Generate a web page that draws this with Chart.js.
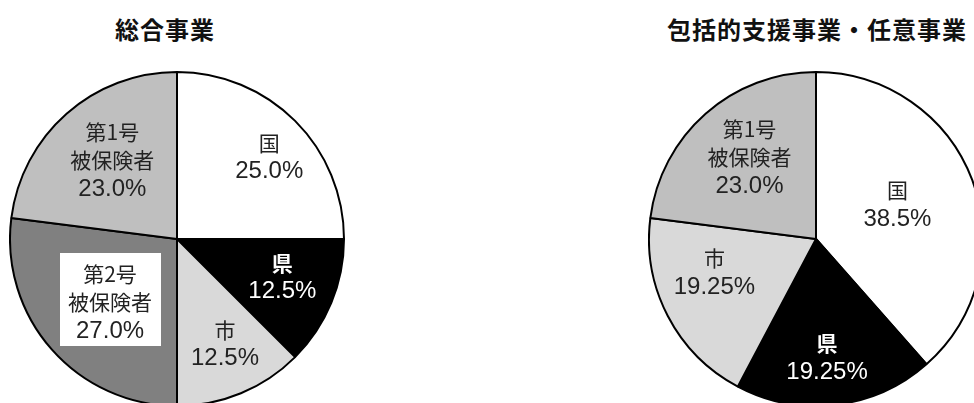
<!DOCTYPE html>
<html lang="ja">
<head>
<meta charset="utf-8">
<title>財源構成</title>
<script src="https://cdn.jsdelivr.net/npm/chart.js@4.4.1/dist/chart.umd.min.js"></script>
<style>
  html, body { margin: 0; padding: 0; background: #fff; }
  body { width: 974px; height: 403px; overflow: hidden; position: relative; }
  .ttl {
    position: absolute; top: 17px; height: 24px; line-height: 24px;
    text-align: center; font-family: "Noto Sans CJK JP", sans-serif;
    font-size: 24px; font-weight: bold; letter-spacing: 1px; color: #111;
    white-space: nowrap;
  }
  canvas { position: absolute; }
</style>
</head>
<body>
<div class="ttl" style="left:65px; width:200px;">総合事業</div>
<div class="ttl" style="left:617px; width:400px;">包括的支援事業・任意事業</div>
<canvas id="sogo" width="336" height="336" style="left:9px; top:71px;"></canvas>
<canvas id="hokatsu" width="336" height="336" style="left:648px; top:71px;"></canvas>

<script>
// 総合事業
var sogoLabels = ['国', '県', '市', '第2号\n被保険者', '第1号\n被保険者'];
var sogoValues = [25.0, 12.5, 12.5, 27.0, 23.0];

// 包括的支援事業・任意事業
var hokatsuLabels = ['国', '県', '市', '第1号\n被保険者'];
var hokatsuValues = [38.5, 19.25, 19.25, 23.0];

// 負担区分ごとの塗り色
var fillColors = {
    '国': '#ffffff',
    '県': '#000000',
    '市': '#d9d9d9',
    '第2号\n被保険者': '#808080',
    '第1号\n被保険者': '#bfbfbf'
};

// ラベルの置き場所（半径に対する比率と角度の補正）
var sogoPlace = {
    frac: [0.74, 0.67, 0.69, 0.55, 0.61],
    shift: [3.3, -2.8, -2.1, -1.8, 2.0],
    box: [false, false, false, true, false]
};
var hokatsuPlace = {
    frac: [0.53, 0.71, 0.64, 0.63],
    shift: [-2.4, 1.4, 9.4, 2.2],
    box: [false, false, false, false]
};

function pctText(v) {
    return (Math.round(v * 10) === v * 10 ? v.toFixed(1) : v.toFixed(2)) + '%';
}

// 扇形の中に名称と割合を書き込む
var sliceLabels = {
    id: 'sliceLabels',
    afterDatasetsDraw: function(chart, args, opts) {
        var ctx = chart.ctx;
        var meta = chart.getDatasetMeta(0);
        var ds = chart.data.datasets[0];
        var lineH = 28;
        meta.data.forEach(function(arc, i) {
            var p = arc.getProps(['x', 'y', 'startAngle', 'endAngle', 'outerRadius'], true);
            var ang = (p.startAngle + p.endAngle) / 2 + opts.shift[i] * Math.PI / 180;
            var r = p.outerRadius * opts.frac[i];
            var cx = p.x + Math.cos(ang) * r;
            var cy = p.y + Math.sin(ang) * r;
            var name = chart.data.labels[i].split('\n');
            var lines = name.map(function(t) { return { t: t, num: false }; });
            lines.push({ t: pctText(ds.data[i]), num: true });
            var dark = ds.backgroundColor[i] === '#000000';
            var nameFont = (dark ? 'bold ' : '') + '21px "Noto Sans CJK JP", sans-serif';
            var numFont = '24px "Liberation Sans", Arial, sans-serif';

            ctx.save();
            ctx.textAlign = 'center';
            ctx.textBaseline = 'middle';
            var top = cy - (lines.length - 1) * lineH / 2;

            if (opts.box[i]) {
                var w = 0;
                lines.forEach(function(l) {
                    ctx.font = l.num ? numFont : nameFont;
                    w = Math.max(w, ctx.measureText(l.t).width);
                });
                var bw = w + 17;
                var bh = lines.length * lineH + 9;
                ctx.fillStyle = '#ffffff';
                ctx.fillRect(Math.round(cx - bw / 2), Math.round(cy - bh / 2 - 2), Math.round(bw), bh);
            }

            ctx.fillStyle = dark ? '#ffffff' : '#222222';
            lines.forEach(function(l, k) {
                ctx.font = l.num ? numFont : nameFont;
                ctx.fillText(l.t, cx, top + k * lineH + (l.num ? 1 : 0));
            });
            ctx.restore();
        });
    }
};

function makePie(id, labels, values, place) {
    var ctx = document.getElementById(id).getContext('2d');
    return new Chart(ctx, {
        type: 'pie',
        data: {
            labels: labels,
            datasets: [{
                data: values,
                backgroundColor: labels.map(function(l) { return fillColors[l]; }),
                borderColor: '#000000',
                borderWidth: 2
            }]
        },
        options: {
            responsive: false,
            animation: false,
            layout: { padding: 0 },
            plugins: {
                legend: { display: false },
                tooltip: { enabled: false },
                title: { display: false },
                sliceLabels: place
            }
        },
        plugins: [sliceLabels]
    });
}

document.addEventListener('DOMContentLoaded', function() {
    makePie('sogo', sogoLabels, sogoValues, sogoPlace);
    makePie('hokatsu', hokatsuLabels, hokatsuValues, hokatsuPlace);
});
</script>
</body>
</html>
